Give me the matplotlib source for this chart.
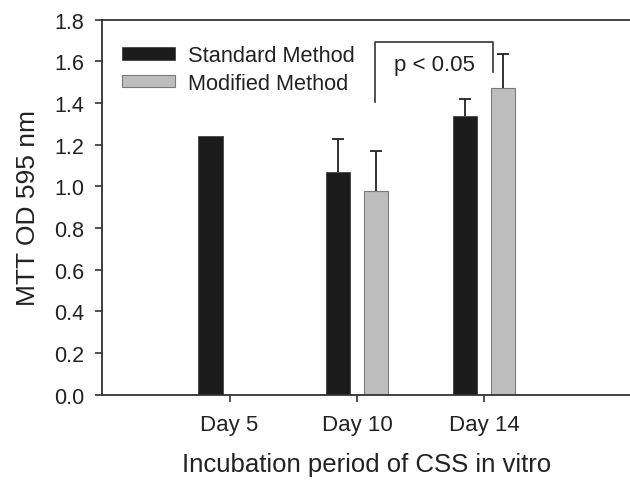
import matplotlib
matplotlib.use("Agg")
import matplotlib.pyplot as plt
from matplotlib.patches import Patch

plt.rcParams['font.family'] = ['Liberation Sans', 'DejaVu Sans']

categories = ["Day 5", "Day 10", "Day 14"]
standard = [1.24, 1.07, 1.34]
standard_err = [0.0, 0.155, 0.08]
modified = [None, 0.98, 1.47]
modified_err = [None, 0.19, 0.165]

txt = '#222222'
fig = plt.figure(figsize=(6.3, 4.81), dpi=100)
ax = fig.add_axes([0.1624, 0.1773, 0.8376, 0.7797])

pos = [1, 2, 3]
off = 0.15
w = 0.19
cap = 0.047


def up_errors(xs, vals, errs):
    for x, v, e in zip(xs, vals, errs):
        if not e:
            continue
        ax.vlines(x, v, v + e, color='#222222', lw=1.3, zorder=3)
        ax.hlines(v + e, x - cap, x + cap, color='#222222', lw=1.3, zorder=3)


bx = [p - off for p in pos]
ax.bar(bx, standard, width=w, color='#1c1c1c', edgecolor='#444444', linewidth=0.6, zorder=2)
up_errors(bx, standard, standard_err)

gx = [p + off for p, v in zip(pos, modified) if v is not None]
gv = [v for v in modified if v is not None]
ge = [e for e in modified_err if e is not None]
ax.bar(gx, gv, width=w, color='#bdbdbd', edgecolor='#7a7a7a', linewidth=0.8, zorder=2)
up_errors(gx, gv, ge)

# significance bracket
ax.plot([2.14, 2.14, 3.07, 3.07], [1.406, 1.694, 1.694, 1.55], color='#333333', lw=1.2)
ax.text(2.605, 1.585, "p < 0.05", ha='center', va='center', fontsize=16, color=txt)

ax.set_xlim(0, 4.145)
ax.set_ylim(0, 1.8)
ax.set_xticks(pos)
ax.set_xticklabels(categories)
ax.set_yticks([i * 0.2 for i in range(10)])
ax.set_yticklabels([f"{i * 0.2:.1f}" for i in range(10)])
ax.tick_params(axis='x', direction='out', length=5, width=1.2, pad=9, labelsize=16, colors='#333333', labelcolor=txt)
ax.tick_params(axis='y', direction='out', length=5, width=1.2, pad=8, labelsize=15.5, colors='#333333', labelcolor=txt)
ax.spines['right'].set_visible(False)
for s in ['left', 'top', 'bottom']:
    ax.spines[s].set_color('#333333')
    ax.spines[s].set_linewidth(1.3)

ax.set_xlabel("Incubation period of CSS in vitro", fontsize=18.5, color=txt, labelpad=12)
ax.set_ylabel("MTT OD 595 nm", fontsize=19, color=txt, labelpad=10)

handles = [Patch(facecolor='#1c1c1c', edgecolor='#444444', linewidth=0.6),
           Patch(facecolor='#bdbdbd', edgecolor='#7a7a7a', linewidth=0.8)]
ax.legend(handles, ["Standard Method", "Modified Method"], loc='upper left',
          bbox_to_anchor=(0.02, 0.955), frameon=False, fontsize=15.7,
          handlelength=2.45, handleheight=0.5, handletextpad=0.6,
          labelspacing=0.3, borderaxespad=0, labelcolor=txt)

fig.savefig("out.png", dpi=100)
